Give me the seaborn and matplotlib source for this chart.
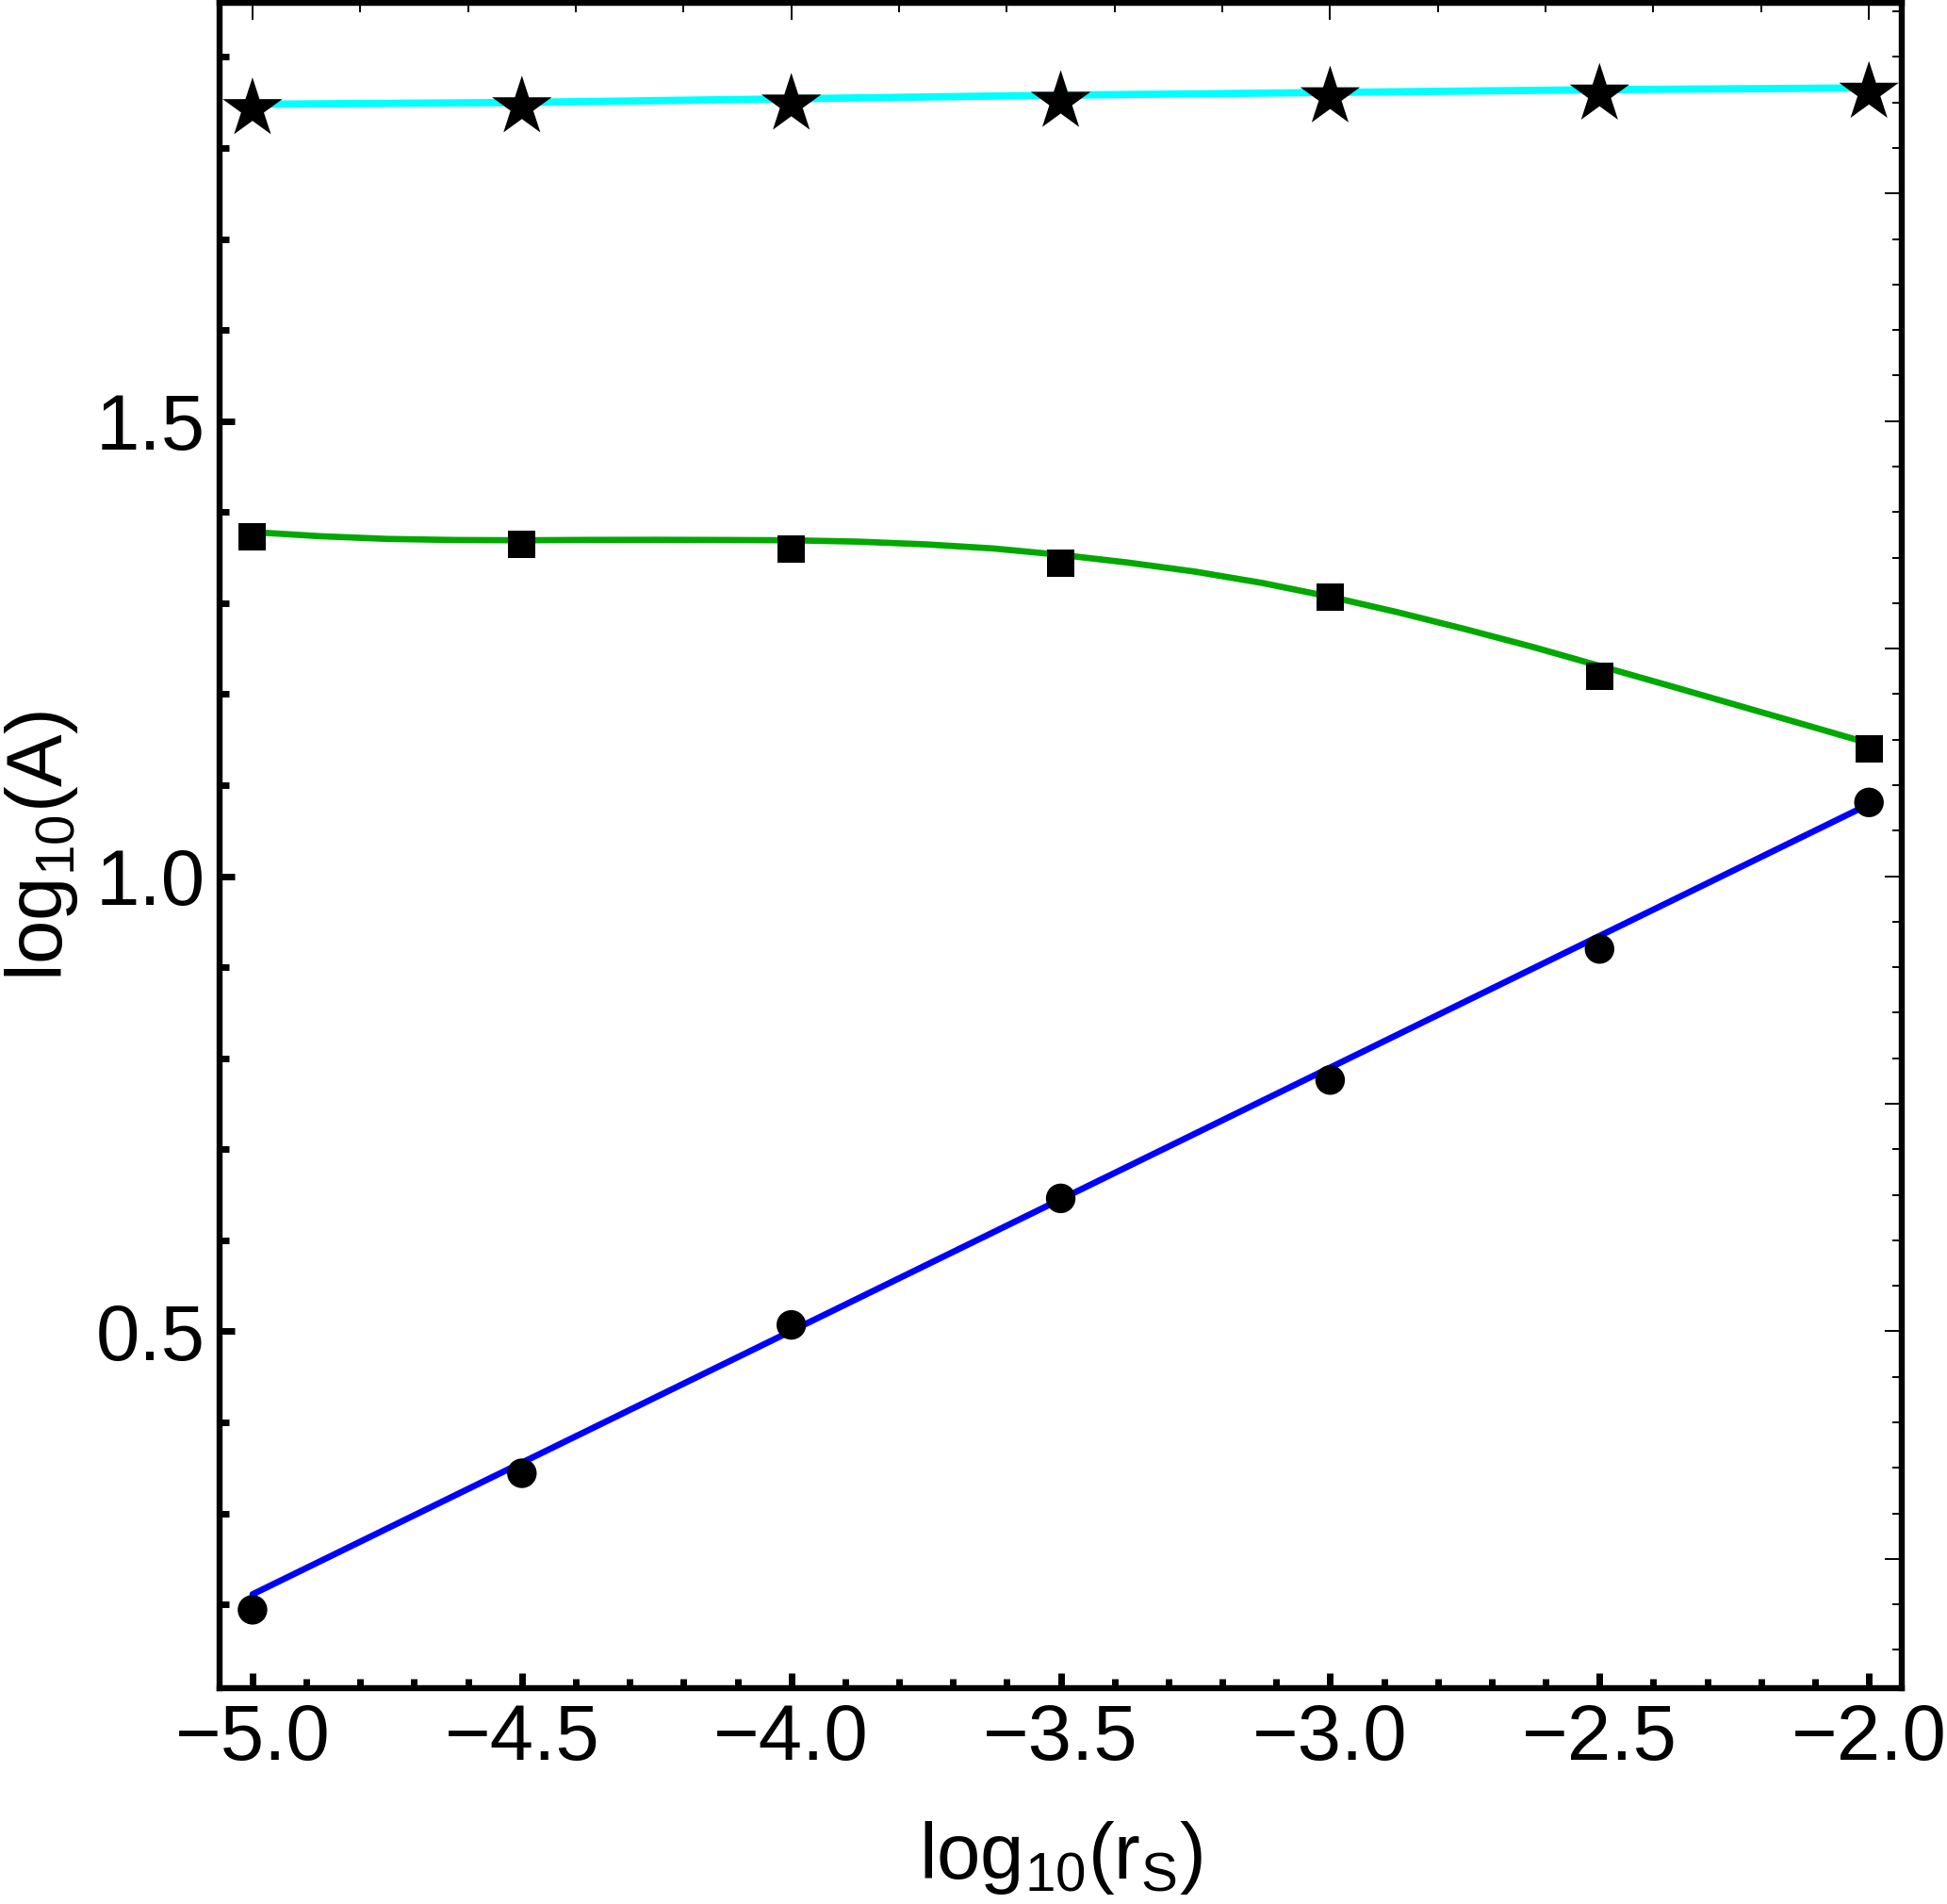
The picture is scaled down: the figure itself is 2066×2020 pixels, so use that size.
import numpy as np
import pandas as pd
import seaborn as sns
import matplotlib
matplotlib.use("Agg")
import matplotlib.pyplot as plt
from matplotlib.ticker import MultipleLocator, FuncFormatter

# data
log_rs = [-5.0, -4.5, -4.0, -3.5, -3.0, -2.5, -2.0]
stars = [1.843, 1.845, 1.848, 1.851, 1.856, 1.859, 1.861]
squares = [1.373, 1.365, 1.359, 1.344, 1.307, 1.220, 1.140]
circles = [0.194, 0.344, 0.507, 0.646, 0.776, 0.920, 1.081]

# fitted curves as drawn in the figure
fit_x_cyan = [-5.0, -4.5, -4.0, -3.5, -3.0, -2.5, -2.0]
fit_y_cyan = [1.848, 1.850, 1.854, 1.858, 1.861, 1.864, 1.866]
fit_x_green = [-5.0, -4.875, -4.75, -4.625, -4.5, -4.375, -4.25, -4.125, -4.0,
               -3.875, -3.75, -3.625, -3.5, -3.375, -3.25, -3.125, -3.0,
               -2.875, -2.75, -2.625, -2.5, -2.375, -2.25, -2.125, -2.0]
fit_y_green = [1.378, 1.3735, 1.3705, 1.3693, 1.369, 1.3694, 1.3695, 1.3693, 1.369,
               1.3675, 1.3645, 1.360, 1.353, 1.3445, 1.3345, 1.322, 1.307,
               1.290, 1.2715, 1.252, 1.231, 1.210, 1.1887, 1.1674, 1.146]
fit_x_blue = [-5.0, -2.0]
fit_y_blue = [0.211, 1.079]

sns.set_style("white")
plt.rcParams['font.family'] = ['Liberation Sans', 'DejaVu Sans']
plt.rcParams['mathtext.default'] = 'regular'
plt.rcParams['axes.unicode_minus'] = True
plt.rcParams['text.color'] = 'black'
plt.rcParams['axes.labelcolor'] = 'black'
plt.rcParams['xtick.color'] = 'black'
plt.rcParams['ytick.color'] = 'black'

fig = plt.figure(figsize=(10.33, 10.1), dpi=200)
ax = fig.add_axes([0.1128, 0.1134, 0.864, 0.8849])

lw = 2.4
sns.lineplot(x=fit_x_cyan, y=fit_y_cyan, color='#00FFFF', lw=2.8, ax=ax, zorder=2)
sns.lineplot(x=fit_x_green, y=fit_y_green, color='#00A800', lw=lw, ax=ax, zorder=2)
sns.lineplot(x=fit_x_blue, y=fit_y_blue, color='#0000FF', lw=lw, ax=ax, zorder=2)

sns.scatterplot(x=log_rs, y=stars, marker='*', s=24**2, color='black', edgecolor='none', linewidth=0, ax=ax, zorder=3)
sns.scatterplot(x=log_rs, y=squares, marker='s', s=10.4**2, color='black', edgecolor='none', linewidth=0, ax=ax, zorder=3)
sns.scatterplot(x=log_rs, y=circles, marker='o', s=11.3**2, color='black', edgecolor='none', linewidth=0, ax=ax, zorder=3)

ax.set_xlim(-5.061, -1.939)
ax.set_ylim(0.108, 1.959)

for s in ax.spines.values():
    s.set_visible(True)
    s.set_linewidth(2.3)
    s.set_color('black')

fmt = FuncFormatter(lambda v, p: ('%.1f' % v).replace('-', '\u2212'))
ax.xaxis.set_major_locator(MultipleLocator(0.5))
ax.xaxis.set_minor_locator(MultipleLocator(0.1))
ax.yaxis.set_major_locator(MultipleLocator(0.5))
ax.yaxis.set_minor_locator(MultipleLocator(0.1))
ax.xaxis.set_major_formatter(fmt)
ax.yaxis.set_major_formatter(fmt)
ax.tick_params(which='both', direction='in', color='black', width=2.5,
               bottom=True, left=True, top=False, right=False,
               labelsize=30, labelcolor='black', pad=5.5)
ax.tick_params(which='major', length=5.8)
ax.tick_params(which='minor', length=3.6)

# thin mirrored ticks on top and right
top = ax.secondary_xaxis('top')
top.xaxis.set_major_locator(MultipleLocator(1.0))
top.xaxis.set_minor_locator(MultipleLocator(0.2))
top.tick_params(which='both', direction='in', width=0.7, color='black', top=True, labeltop=False)
top.tick_params(which='major', length=6.5)
top.tick_params(which='minor', length=3.6)
top.spines['top'].set_visible(False)

right = ax.secondary_yaxis('right')
right.yaxis.set_major_locator(MultipleLocator(0.25))
right.yaxis.set_minor_locator(MultipleLocator(0.05))
right.tick_params(which='both', direction='in', width=0.7, color='black', right=True, labelright=False)
right.tick_params(which='major', length=6.5)
right.tick_params(which='minor', length=3.6)
right.spines['right'].set_visible(False)

ax.set_xlabel('log$_{10}$(r$_{S}$)', fontsize=30)
ax.set_ylabel('log$_{10}$(A)', fontsize=30)
ax.xaxis.set_label_coords(0.5, -0.078)
ax.yaxis.set_label_coords(-0.083, 0.5)

fig.savefig('out.png', dpi=200)
